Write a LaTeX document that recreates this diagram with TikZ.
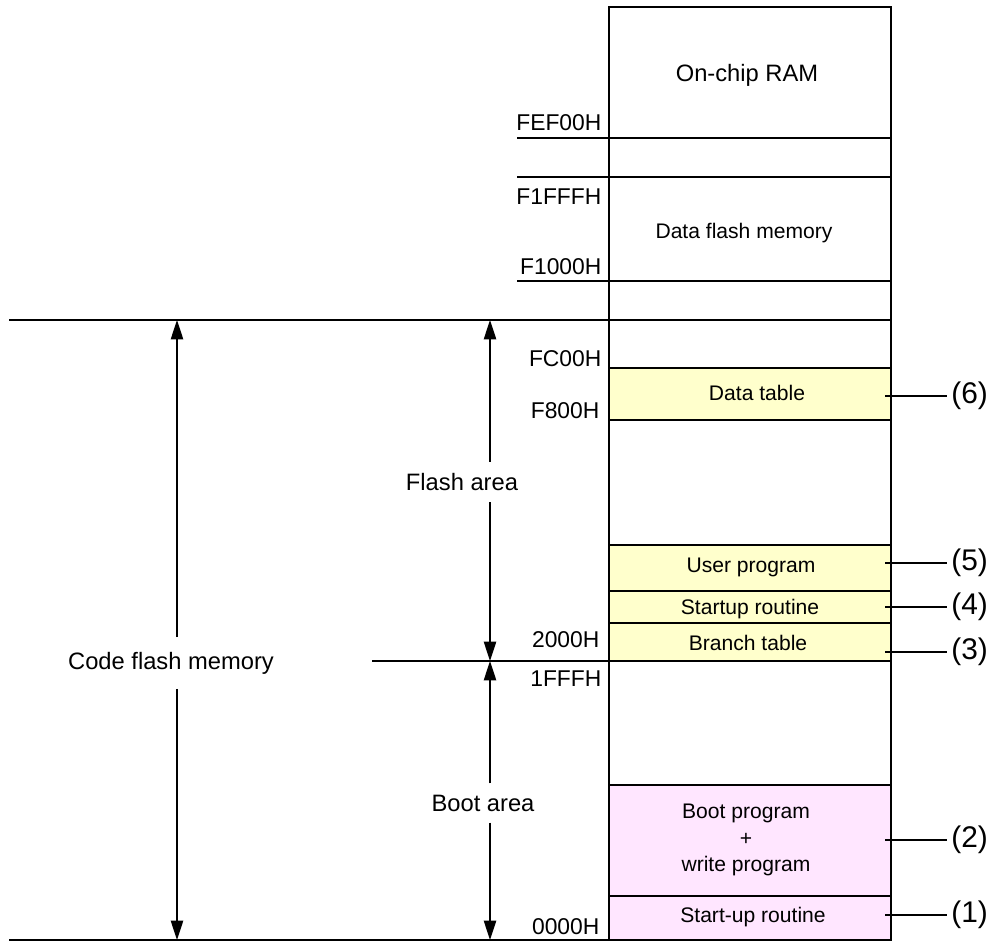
\documentclass[tikz,border=0pt]{standalone}
\usepackage{fontspec}
\setmainfont{Liberation Sans}
\usetikzlibrary{arrows.meta,positioning}
\definecolor{progyellow}{RGB}{255,255,204}
\definecolor{bootpink}{RGB}{255,230,255}

\begin{document}
\begin{tikzpicture}[x=0.02cm,y=-0.02cm,line width=1pt,
  addr/.style={anchor=east,inner sep=1pt,font=\fontsize{13}{15}\selectfont},
  regtxt/.style={align=center,font=\fontsize{12}{15}\selectfont},
  callno/.style={anchor=west,inner sep=2pt,font=\fontsize{17}{20}\selectfont},
  dimtxt/.style={inner xsep=0pt,inner ysep=6pt,font=\fontsize{13.5}{16}\selectfont},
  dimarr/.style={line width=0.8pt,-{Triangle[length=11pt,width=7pt]}}]
  \useasboundingbox (0,0) rectangle (1000,942);
  % coloured areas
  \fill[progyellow] (609,368) rectangle (891,420);
  \fill[progyellow] (609,545) rectangle (891,661);
  \fill[bootpink] (609,785) rectangle (891,940);
  % memory column and boundaries
  \draw (609,7) rectangle (891,940);
  \draw (517,138) -- (891,138); \draw (517,177) -- (891,177); \draw (517,281) -- (891,281);
  \draw (9,320) -- (891,320);
  \foreach \y in {368,420,545,591,623,785,896} \draw (609,\y) -- (891,\y);
  \draw (372,661) -- (891,661);
  \draw (9,940) -- (891,940);

  % addresses
  \node[addr] (aFEF00) at (604,123) {FEF00H};
  \node[addr] (aF1FFF) at (604,197) {F1FFFH};
  \node[addr] (aF1000) at (604,267) {F1000H};
  \node[addr] (aFC00) at (604,359) {FC00H};
  \node[addr] (aF800) at (602,411) {F800H};
  \node[addr] (a2000) at (602,640) {2000H};
  \node[addr] (a1FFF) at (604,679) {1FFFH};
  \node[addr] (a0000) at (602,927) {0000H};

  % area texts
  \node[regtxt,font=\fontsize{13.5}{16}\selectfont] (ram) at (747,75) {On-chip RAM};
  \node[regtxt] (dflash) at (744,233) {Data flash memory};
  \node[regtxt] (dtab) at (757,393) {Data table};
  \node[regtxt] (uprog) at (751,567) {User program};
  \node[regtxt] (srout) at (750,609) {Startup routine};
  \node[regtxt] (btab) at (748,643) {Branch table};
  \node[regtxt] (bprog) at (746,840) {Boot program\\+\\write program};
  \node[regtxt] (suprout) at (753,917) {Start-up routine};

  % numbered callouts
  \foreach \n/\y in {6/396,5/563,4/607,3/652,2/840,1/915} {
    \coordinate (p\n) at (885,\y);
    \node[callno] (c\n) at (947,\y) {(\n)};
    \draw[line width=0.8pt] (p\n) -- (c\n.west);
  }

  % dimension arrows
  \coordinate (cfmtop) at (177,320); \coordinate (cfmbot) at (177,940);
  \node[dimtxt,inner ysep=8pt] (cfm) at (171,663) {Code flash memory};
  \draw[dimarr] (cfm.north -| cfmtop) -- (cfmtop);
  \draw[dimarr] (cfm.south -| cfmbot) -- (cfmbot);

  \coordinate (fatop) at (490,320); \coordinate (fabot) at (490,661);
  \node[dimtxt] (farea) at (462,482) {Flash area};
  \draw[dimarr] (farea.north -| fatop) -- (fatop);
  \draw[dimarr] (farea.south -| fabot) -- (fabot);

  \coordinate (batop) at (490,661); \coordinate (babot) at (490,940);
  \node[dimtxt] (barea) at (483,803) {Boot area};
  \draw[dimarr] (barea.north -| batop) -- (batop);
  \draw[dimarr] (barea.south -| babot) -- (babot);
\end{tikzpicture}
\end{document}
